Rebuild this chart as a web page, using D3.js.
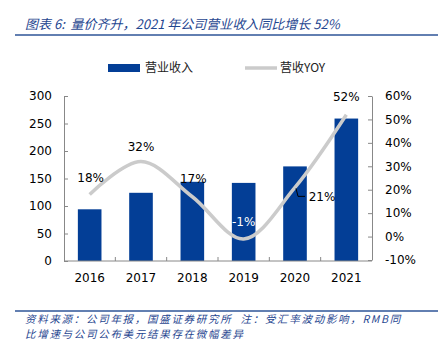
<!DOCTYPE html>
<html>
<head>
<meta charset="utf-8">
<script src="https://cdn.jsdelivr.net/npm/d3@7"></script>
<style>
  body { margin: 0; background: #fff; }
  text { font-family: "DejaVu Sans", sans-serif; }
  .cjk { font-family: "Noto Sans CJK SC", sans-serif; }
</style>
</head>
<body>
<svg width="438" height="341"></svg>
<script>
// revenue bars (left axis) and YoY growth line (right axis)
let years   = ['2016', '2017', '2018', '2019', '2020', '2021'];
let revenue = [94, 124, 144, 142, 172, 259];
let yoy     = [18, 32, 17, -1, 21, 52];
let leftTicks  = [0, 50, 100, 150, 200, 250, 300];
let rightTicks = [-10, 0, 10, 20, 30, 40, 50, 60];

let blue = '#033e96',
    grey = '#cbcbcb',
    ink  = '#1f4690';

let plotLeft = 64, plotRight = 372, plotTop = 96, plotBottom = 261;

let svg = d3.select('svg');

let xScale = d3.scaleBand()
                .domain(years)
                .range([plotLeft, plotRight])
                .paddingInner(0.54)
                .paddingOuter(0.27),
    xPoint = d => xScale(d) + xScale.bandwidth() / 2;

let yLeft  = d3.scaleLinear().domain([0, 300]).range([plotBottom, plotTop]),
    yRight = d3.scaleLinear().domain([-10, 60]).range([plotBottom - 1, plotTop]);

//Title
svg.append('text')
    .attr('class', 'cjk')
    .attr('x', 25)
    .attr('y', 29)
    .attr('font-size', 13)
    .attr('font-style', 'italic')
    .attr('fill', ink)
    .attr('xml:space', 'preserve')
    .text('图表 6:  量价齐升，2021 年公司营业收入同比增长 52%');

svg.append('line')
    .attr('x1', 15).attr('x2', 438)
    .attr('y1', 35).attr('y2', 35)
    .attr('stroke', '#2e5597')
    .attr('stroke-width', 1.6);

//Legend
svg.append('rect')
    .attr('x', 108).attr('y', 64)
    .attr('width', 32).attr('height', 8)
    .attr('fill', blue);
svg.append('text')
    .attr('class', 'cjk')
    .attr('x', 145).attr('y', 72)
    .attr('font-size', 12)
    .attr('fill', '#222')
    .text('营业收入');
svg.append('line')
    .attr('x1', 245).attr('x2', 277)
    .attr('y1', 68).attr('y2', 68)
    .attr('stroke', grey)
    .attr('stroke-width', 3.5);
svg.append('text')
    .attr('class', 'cjk')
    .attr('x', 280).attr('y', 72)
    .attr('font-size', 12)
    .attr('fill', '#222')
    .text('营收YOY');

//Bars
svg.selectAll('rect.bar')
  .data(revenue)
  .enter()
  .append('rect')
    .attr('class', 'bar')
    .attr('x', (d, i) => xScale(years[i]))
    .attr('y', d => yLeft(d))
    .attr('width', xScale.bandwidth())
    .attr('height', d => yLeft(0) - yLeft(d))
    .attr('fill', blue);

//Axes
let axisLeft = d3.axisLeft(yLeft)
                .tickValues(leftTicks)
                .tickSizeInner(-4)
                .tickSizeOuter(0)
                .tickPadding(12),
    axisRight = d3.axisRight(yRight)
                .tickValues(rightTicks)
                .tickFormat(d => d + '%')
                .tickSizeInner(-4)
                .tickSizeOuter(0)
                .tickPadding(13);

let gl = svg.append('g')
    .attr('transform', `translate(${plotLeft}, 0)`)
    .call(axisLeft);
let gr = svg.append('g')
    .attr('transform', `translate(${plotRight}, 0)`)
    .call(axisRight);

let gx = svg.append('g')
    .attr('transform', `translate(0, ${plotBottom})`);
gx.append('line')
    .attr('x1', plotLeft).attr('x2', plotRight)
    .attr('stroke', '#888');
gx.selectAll('line.tick')
  .data(years.slice(1))
  .enter()
  .append('line')
    .attr('class', 'tick')
    .attr('x1', d => xScale(d) - xScale.step() * xScale.paddingInner() / 2)
    .attr('x2', d => xScale(d) - xScale.step() * xScale.paddingInner() / 2)
    .attr('y1', 0).attr('y2', -4)
    .attr('stroke', '#888');
gx.selectAll('text')
  .data(years)
  .enter()
  .append('text')
    .attr('x', d => xPoint(d))
    .attr('y', 21)
    .attr('font-size', 12)
    .attr('text-anchor', 'middle')
    .text(d => d);

[gl, gr].forEach(g => {
  g.select('.domain').attr('stroke', '#888');
  g.selectAll('.tick line').attr('stroke', '#888');
  g.selectAll('.tick text')
    .attr('font-family', '"DejaVu Sans", sans-serif')
    .attr('font-size', 12)
    .attr('fill', '#000');
});

//YoY line
let line = d3.line()
    .x((d, i) => xPoint(years[i]))
    .y(d => yRight(d))
    .curve(d3.curveCatmullRom.alpha(0.5));

svg.append('path')
    .datum(yoy)
    .attr('d', line)
    .attr('fill', 'none')
    .attr('stroke', grey)
    .attr('stroke-width', 3.5);

// label offsets from each point: [dx, dy]
let labelShift = [[1, -16], [0, -15], [1, -18], [0, -17], [27, 10], [0, -18]];

svg.selectAll('text.lbl')
  .data(yoy)
  .enter()
  .append('text')
    .attr('class', 'lbl')
    .attr('x', (d, i) => xPoint(years[i]) + labelShift[i][0])
    .attr('y', (d, i) => yRight(d) + labelShift[i][1] + 4)
    .attr('font-size', 12)
    .attr('text-anchor', 'middle')
    .attr('fill', d => d < 0 ? '#fff' : '#000')
    .text(d => d + '%');

// leader for 21%
let p = [xPoint(years[4]), yRight(yoy[4])];
svg.append('path')
    .attr('d', `M${p[0] + 1},${p[1] + 1}L${p[0] + 3},${p[1] + 9}L${p[0] + 10},${p[1] + 9}`)
    .attr('fill', 'none')
    .attr('stroke', '#000');

//Footer
svg.append('line')
    .attr('x1', 15).attr('x2', 438)
    .attr('y1', 311).attr('y2', 311)
    .attr('stroke', '#2e5597')
    .attr('stroke-width', 1.6);

let foot = ['资料来源：公司年报，国盛证券研究所  注：受汇率波动影响，RMB同',
            '比增速与公司公布美元结果存在微幅差异'];
svg.selectAll('text.foot')
  .data(foot)
  .enter()
  .append('text')
    .attr('class', 'cjk foot')
    .attr('x', 25)
    .attr('y', (d, i) => 322.5 + i * 15.3)
    .attr('font-size', 10.5)
    .attr('letter-spacing', 1.7)
    .attr('font-style', 'italic')
    .attr('fill', ink)
    .attr('xml:space', 'preserve')
    .text(d => d);
</script>
</body>
</html>
